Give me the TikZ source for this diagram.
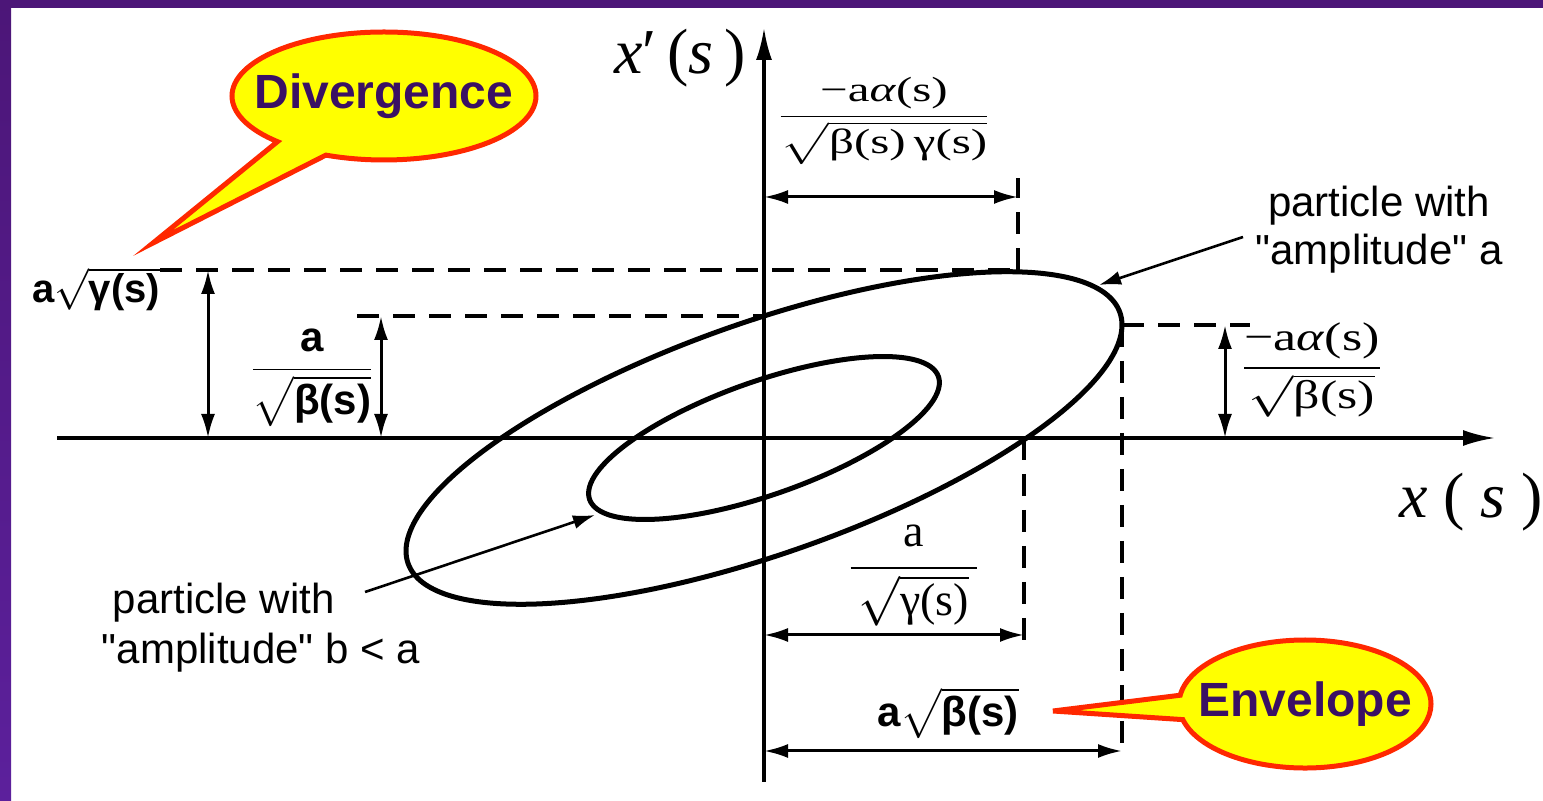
\documentclass[tikz,border=0pt]{standalone}
\usepackage{amsmath}
\usepackage{graphicx}
\usepackage{fontspec}
\setmainfont{Liberation Serif}
\setsansfont{Liberation Sans}
\usepackage{tikz}
\usetikzlibrary{arrows.meta, shapes.callouts}

\definecolor{slideviolet}{RGB}{76,22,120}
\definecolor{slidevioletlt}{RGB}{92,32,156}
\definecolor{bubbleyellow}{RGB}{255,255,0}
\definecolor{bubblered}{RGB}{255,40,0}
\definecolor{bubbletext}{RGB}{58,16,100}

\newcommand{\xstretch}[2]{\scalebox{#1}[1]{#2}}

\begin{document}
\begin{tikzpicture}[
    x=0.5pt, y=-0.5pt,
    axis/.style={-{Latex[length=16pt,width=8pt]}, line width=1.6pt},
    orbit/.style={line width=2.5pt},
    guide/.style={dash pattern=on 11pt off 7pt, line width=1.6pt},
    dim/.style={{Latex[length=12pt,width=7pt]}-{Latex[length=12pt,width=7pt]}, line width=1.5pt},
    pointer/.style={-{Latex[length=11pt,width=7pt]}, line width=1.3pt},
    serif/.style={font=\fontsize{#1}{#1}\selectfont\rmfamily, inner sep=0pt},
    sym/.style={font=\fontsize{#1}{#1}\selectfont\sffamily\bfseries, inner sep=0pt},
    lbl/.style={font=\fontsize{21}{24}\selectfont\sffamily, inner sep=0pt},
    bubble/.style={
        ellipse callout, draw=bubblered, line width=2.5pt, fill=bubbleyellow,
        text=bubbletext, font=\fontsize{24}{28}\selectfont\sffamily\bfseries,
        minimum height=64pt, callout pointer arc=22
    },
]

%% Slide frame
\useasboundingbox (0,0) rectangle (1543,801);
\fill[slideviolet] (0,0) rectangle (1543,8);
\shade[top color=slideviolet, bottom color=slidevioletlt] (0,0) rectangle (11,801);

%% Axes
\coordinate (O)  at (764,438);
\coordinate (xl) at (57,438);
\coordinate (xr) at (1495,438);
\coordinate (yb) at (764,782);
\coordinate (yt) at (764,28);
\draw[axis] (xl) -- (xr);
\draw[axis] (yb) -- (yt);

%% Phase-space ellipses: amplitude a and b < a
\foreach \amp in {1,0.49}
    \draw[orbit] plot[domain=0:357, samples=120, smooth cycle, variable=\t]
        ({764+\amp*358*cos(\t)}, {438-\amp*(113*cos(\t)+122*sin(\t))});

%% Points on the outer ellipse
\coordinate (ptop)   at (1018,270);
\coordinate (pright) at (1122,325);
\coordinate (pxcut)  at (1024,438);
\coordinate (pycut)  at (764,316);

%% Dashed guide lines
\coordinate (gtopl)  at (160,270);
\coordinate (gtopu)  at (1018,178);
\coordinate (gbetal) at (357,316);
\coordinate (grght)  at (1250,325);
\coordinate (gxcut)  at (1024,645);
\coordinate (genv)   at (1122,753);
\draw[guide] (gtopl) -- (ptop);
\draw[guide] (ptop) -- (gtopu);
\draw[guide] (gbetal) -- (pycut);
\draw[guide] (pright) -- (grght);
\draw[guide] (pxcut) -- (gxcut);
\draw[guide] (pright) -- (genv);

%% Dimension arrows
\coordinate (dga) at (208,438);  \coordinate (dgb) at (208,270);
\coordinate (dba) at (381,438);  \coordinate (dbb) at (381,316);
\coordinate (dra) at (1225,438); \coordinate (drb) at (1225,325);
\coordinate (dta) at (764,197);  \coordinate (dtb) at (1018,197);
\coordinate (dxa) at (764,635);  \coordinate (dxb) at (1024,635);
\coordinate (dea) at (764,751);  \coordinate (deb) at (1122,751);
\draw[dim] (dga) -- (dgb);
\draw[dim] (dba) -- (dbb);
\draw[dim] (dra) -- (drb);
\draw[dim] (dta) -- (dtb);
\draw[dim] (dxa) -- (dxb);
\draw[dim] (dea) -- (deb);

%% Axis labels
\node[serif=32] (xplab) at (680,58) {\textit{x}′\,(\textit{s}\,)};
\node[serif=32] (xlab)  at (1471,502) {\textit{x} ( \textit{s} )};

%% Twiss labels
\node[serif=17.5] (frtop) at (884,121)
    {\xstretch{1.4}{$\dfrac{\text{−a\textit{α}(s)}}{\sqrt{\text{β(s)\,γ(s)}}}$}};
\node[serif=20] (frright) at (1312,370)
    {\xstretch{1.3}{$\dfrac{\text{−a\textit{α}(s)}}{\sqrt{\text{β(s)}}}$}};
\node[serif=23] (frxcut) at (914,576)
    {$\dfrac{\text{a}}{\,\sqrt{\text{γ(s)}}\,}$};
\node[sym=20] (lgamma) at (96,289) {$\text{a}\sqrt{\text{γ(s)}}$};
\node[sym=21] (lbeta)  at (312,378) {$\dfrac{\text{a}}{\sqrt{\text{β(s)}}}$};
\node[sym=21] (lenv)   at (948,713) {$\text{a}\sqrt{\text{β(s)}}$};

%% Particle labels
\node[lbl, align=center] (ampa) at (1379,230)
    {particle with\\\textquotedbl amplitude\textquotedbl\ a};
\node[lbl, align=left, font=\fontsize{21}{25}\selectfont\sffamily] (ampb) at (261,628)
    {\hspace*{5.5pt}particle with\\\textquotedbl amplitude\textquotedbl\ b < a};
\coordinate (taila) at (1243,237);
\coordinate (hita)  at (1099,285);
\coordinate (tailb) at (365,592);
\coordinate (hitb)  at (595,515);
\draw[pointer] (taila) -- (hita);
\draw[pointer] (tailb) -- (hitb);

%% Callouts
\node[bubble, minimum width=152pt, callout absolute pointer={(153,243)}] (div)
    at (384,96) {\makebox[0pt]{Divergence}};
\node[bubble, minimum width=126pt, callout absolute pointer={(1053,711)}] (envl)
    at (1305,704) {\makebox[0pt]{Envelope}};

\end{tikzpicture}
\end{document}
